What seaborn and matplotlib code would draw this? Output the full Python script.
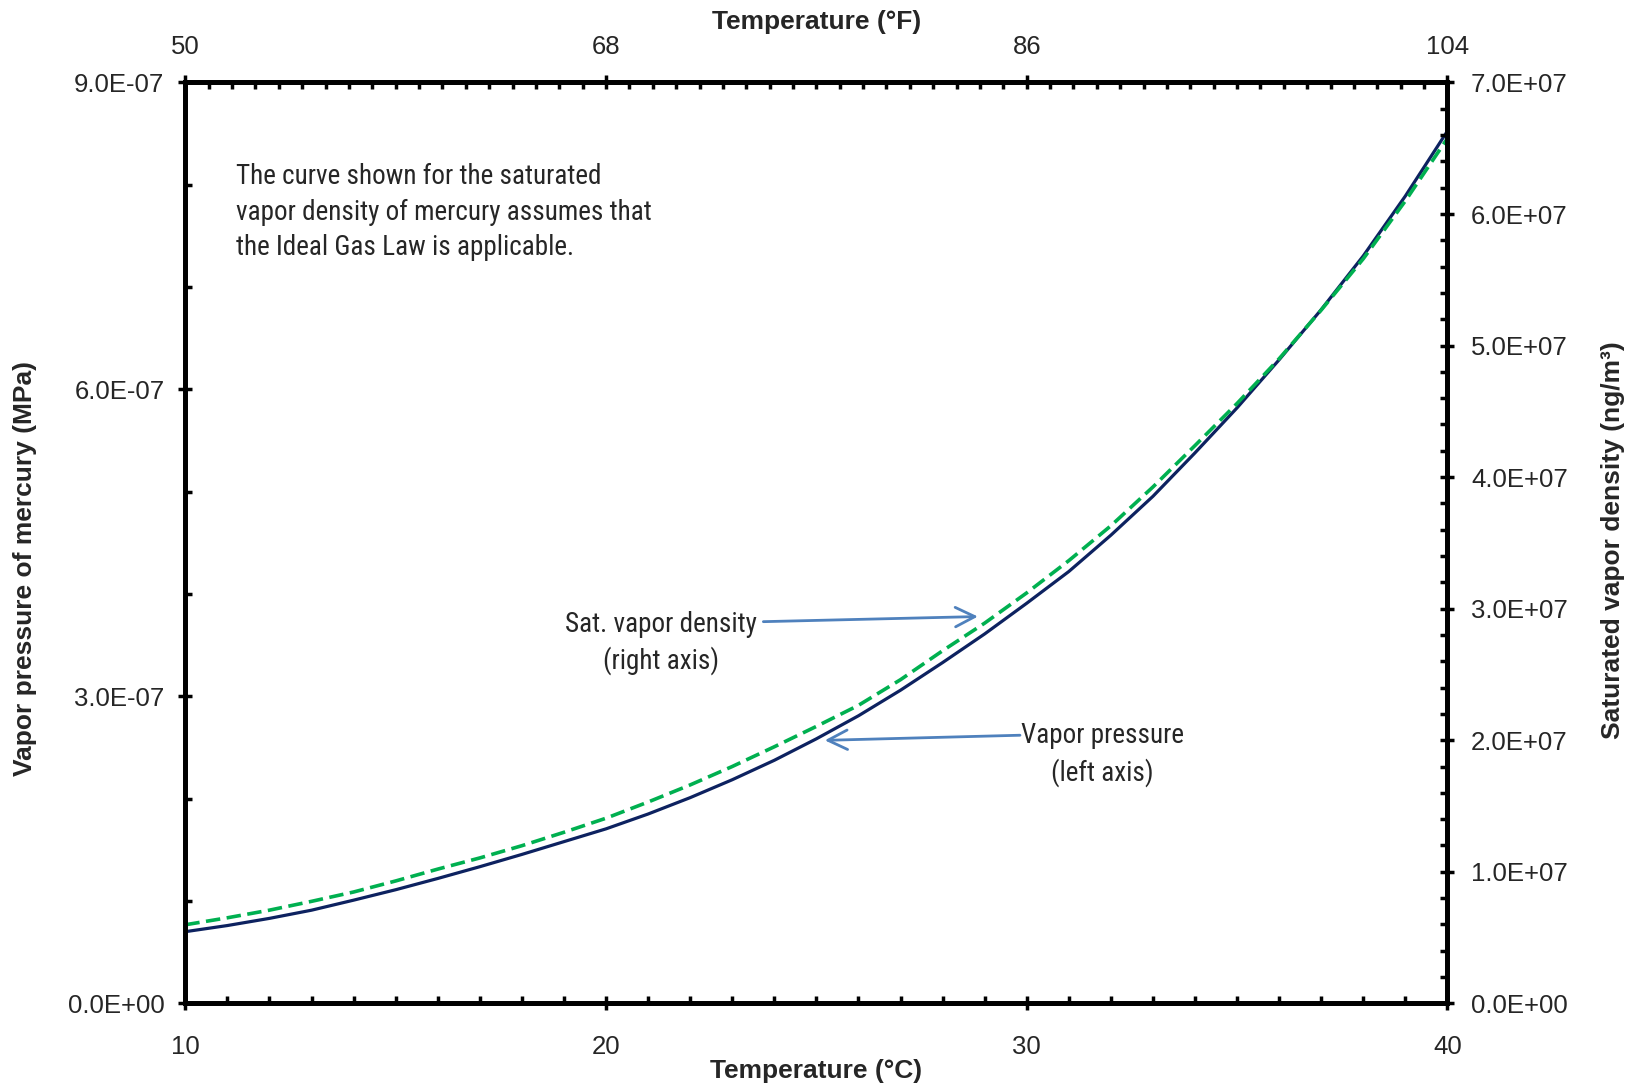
import pandas as pd
import matplotlib
matplotlib.use('Agg')
import matplotlib.pyplot as plt
import seaborn as sns
from matplotlib import font_manager
from matplotlib.ticker import MultipleLocator, FixedLocator, FuncFormatter

# values
temp_c = list(range(10, 41))
vapor_pressure = [0.70, 0.76, 0.83, 0.91, 1.008, 1.11, 1.22, 1.335, 1.455, 1.58,
                  1.705, 1.85, 2.01, 2.185, 2.375, 2.585, 2.81, 3.06, 3.33, 3.61,
                  3.91, 4.22, 4.575, 4.955, 5.38, 5.82, 6.29, 6.78, 7.305, 7.89,
                  8.525]                                    # x 1e-7 MPa
vapor_density = [0.597, 0.65, 0.708, 0.775, 0.846, 0.93, 1.02, 1.105, 1.198, 1.30,
                 1.407, 1.53, 1.66, 1.80, 1.95, 2.105, 2.265, 2.46, 2.68, 2.89,
                 3.12, 3.365, 3.63, 3.925, 4.24, 4.56, 4.90, 5.27, 5.66, 6.10,
                 6.575]                                     # x 1e7 ng/m3
temp_f_ticks = [50, 68, 86, 104]

df = pd.DataFrame({'temp_c': temp_c,
                   'vp': [v * 1e-7 for v in vapor_pressure],
                   'rho': [v * 1e7 for v in vapor_density]})

sns.set_style('white')
plt.rcParams['font.family'] = ['Liberation Sans', 'DejaVu Sans']

# the notes use a narrow face in the original; take one if there is any
avail = {f.name for f in font_manager.fontManager.ttflist}
narrow_names = ['Liberation Sans Narrow', 'Arial Narrow', 'Roboto Condensed',
                'Open Sans Condensed', 'DejaVu Sans Condensed', 'Noto Sans Condensed']
pick = next((n for n in narrow_names if n in avail), None)
if pick:
    note_kw = dict(family=[pick, 'DejaVu Sans'], fontsize=19.5)
else:
    cond = [f for f in font_manager.fontManager.ttflist
            if f.stretch in ('condensed', 'semi-condensed') and f.weight in (400, 'normal')
            and f.style == 'normal' and 'mono' not in f.name.lower()
            and 'serif' not in f.name.lower()]
    if cond:
        note_kw = dict(fontproperties=font_manager.FontProperties(fname=cond[0].fname, size=19.5))
    else:
        note_kw = dict(family=['Liberation Sans', 'DejaVu Sans'], fontsize=18)

fig, ax = plt.subplots(figsize=(16.37, 10.85), dpi=100)
fig.subplots_adjust(left=0.1132, right=0.8842, bottom=0.0753, top=0.924)
ax2 = ax.twinx()
ax3 = ax.twiny()

sns.lineplot(data=df, x='temp_c', y='vp', ax=ax, color='#0d2260', lw=2.3)
sns.lineplot(data=df, x='temp_c', y='rho', ax=ax2, color='#00b050', lw=2.6,
             linestyle=(0, (4, 1.8)))

ax.set_xlim(10, 40)
ax.set_ylim(0, 9e-7)
ax2.set_ylim(0, 7e7)
ax3.set_xlim(50, 104)

sci = FuncFormatter(lambda v, p: '{:.1E}'.format(v))

ax.xaxis.set_major_locator(FixedLocator([10, 20, 30, 40]))
ax.xaxis.set_minor_locator(MultipleLocator(1))
ax.yaxis.set_major_locator(MultipleLocator(3e-7))
ax.yaxis.set_minor_locator(MultipleLocator(1e-7))
ax.yaxis.set_major_formatter(sci)
ax2.yaxis.set_major_locator(MultipleLocator(1e7))
ax2.yaxis.set_minor_locator(MultipleLocator(2e6))
ax2.yaxis.set_major_formatter(sci)
ax3.xaxis.set_major_locator(FixedLocator(temp_f_ticks))
ax3.xaxis.set_minor_locator(MultipleLocator(1))

for a in (ax, ax2, ax3):
    a.tick_params(which='major', direction='inout', length=10, width=2.5,
                  labelsize=18.5, color='black')
    a.tick_params(which='minor', direction='in', length=5, width=2.5, color='black')
    for s in a.spines.values():
        s.set_linewidth(3.3)
        s.set_color('black')
ax.tick_params(top=False, right=False, which='both')
ax.tick_params(axis='x', which='major', pad=18)
ax.tick_params(axis='y', which='major', pad=10)
ax2.tick_params(axis='y', which='major', pad=12)
ax3.tick_params(axis='x', which='major', pad=12)

bold = dict(fontsize=19, fontweight='bold')
ax.set_xlabel('Temperature (°C)', va='center', **bold)
ax.xaxis.set_label_coords(0.5, -0.074)
ax.set_ylabel('Vapor pressure of mercury (MPa)', va='center', **bold)
ax.yaxis.set_label_coords(-0.127, 0.472)
ax2.set_ylabel('Saturated vapor density (ng/m³)', va='center', **bold)
ax2.yaxis.set_label_coords(1.1313, 0.5035)
ax3.set_xlabel('Temperature (°F)', va='center', **bold)
ax3.xaxis.set_label_coords(0.5, 1.0655)

ax.text(11.205, 8.21e-7, 'The curve shown for the saturated\nvapor density of mercury assumes that\n'
        'the Ideal Gas Law is applicable.', ha='left', va='top', linespacing=1.4, **note_kw)
ax.text(21.31, 3.52e-7, 'Sat. vapor density\n(right axis)', ha='center', va='center',
        multialignment='center', linespacing=1.4, **note_kw)
ax.text(31.80, 2.43e-7, 'Vapor pressure\n(left axis)', ha='center', va='center',
        multialignment='center', linespacing=1.4, **note_kw)

arrow = dict(arrowstyle='->,head_length=0.7,head_width=0.35', color='#4f81bd', lw=2,
             shrinkA=0, shrinkB=0, mutation_scale=20)
ax.annotate('', xy=(28.84, 3.78e-7), xytext=(23.74, 3.73e-7), arrowprops=arrow)
ax.annotate('', xy=(25.2, 2.57e-7), xytext=(29.84, 2.62e-7), arrowprops=arrow)

fig.savefig('out.png', dpi=100)
